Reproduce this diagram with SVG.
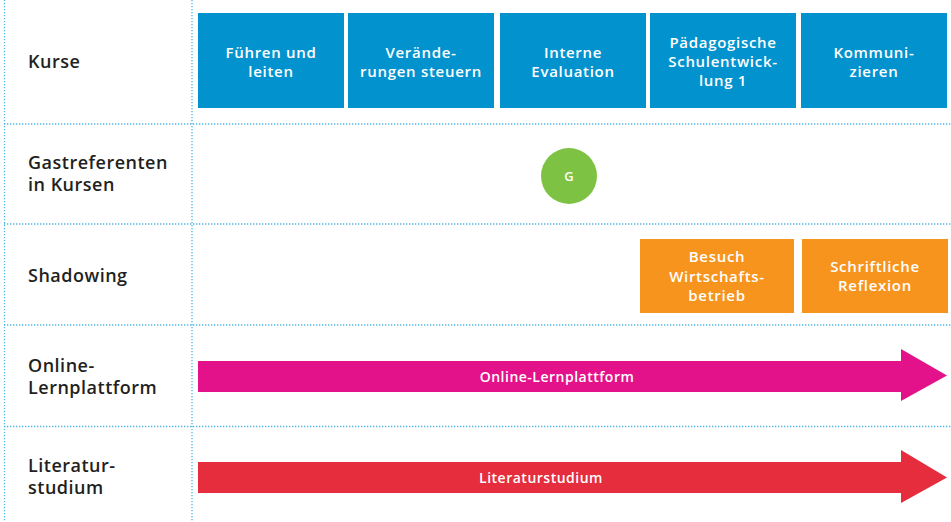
<svg xmlns="http://www.w3.org/2000/svg" width="951" height="522" viewBox="0 0 951 522">
<style>
.grid{stroke:#4DB6E5;stroke-width:1.3;stroke-dasharray:1.3 1.7;fill:none}
.lbl{font-family:"Open Sans","Liberation Sans",sans-serif;font-weight:600;font-size:18px;fill:#231F20;letter-spacing:0.5px}
.bt{font-family:"Open Sans","Liberation Sans",sans-serif;font-weight:600;font-size:15px;fill:#fff;text-anchor:middle;letter-spacing:0.7px}
.at{font-family:"Open Sans","Liberation Sans",sans-serif;font-weight:600;font-size:14px;fill:#fff;text-anchor:middle;letter-spacing:0.5px}
.kurs{fill:#0293CF}
.shad{fill:#F7941D}
</style>
<rect width="951" height="522" fill="#fff"/>
<g id="grid">
<line class="grid" x1="4.5" y1="0" x2="4.5" y2="522"/>
<line class="grid" x1="192" y1="0" x2="192" y2="522"/>
<line class="grid" x1="4" y1="124" x2="951" y2="124"/>
<line class="grid" x1="4" y1="224" x2="951" y2="224"/>
<line class="grid" x1="4" y1="325" x2="951" y2="325"/>
<line class="grid" x1="4" y1="426.5" x2="951" y2="426.5"/>
</g>
<g id="row-labels">
<text class="lbl" x="28" y="68">Kurse</text>
<text class="lbl" x="28" y="169">Gastreferenten</text>
<text class="lbl" x="28" y="191">in Kursen</text>
<text class="lbl" x="28" y="282">Shadowing</text>
<text class="lbl" x="28" y="372">Online-</text>
<text class="lbl" x="28" y="394">Lernplattform</text>
<text class="lbl" x="28" y="472">Literatur-</text>
<text class="lbl" x="28" y="494">studium</text>
</g>
<g id="kurs-fuehren">
<rect class="kurs" x="198" y="13" width="146" height="95"/>
<text class="bt" x="271" y="58">Führen und</text>
<text class="bt" x="271" y="77">leiten</text>
</g>
<g id="kurs-veraenderungen">
<rect class="kurs" x="348" y="13" width="146" height="95"/>
<text class="bt" x="421" y="58">Verände-</text>
<text class="bt" x="421" y="77">rungen steuern</text>
</g>
<g id="kurs-evaluation">
<rect class="kurs" x="500" y="13" width="146" height="95"/>
<text class="bt" x="573" y="58">Interne</text>
<text class="bt" x="573" y="77">Evaluation</text>
</g>
<g id="kurs-schulentwicklung">
<rect class="kurs" x="650" y="13" width="146" height="95"/>
<text class="bt" x="723" y="48">Pädagogische</text>
<text class="bt" x="723" y="67">Schulentwick-</text>
<text class="bt" x="723" y="86">lung 1</text>
</g>
<g id="kurs-kommunizieren">
<rect class="kurs" x="801" y="13" width="146" height="95"/>
<text class="bt" x="874" y="58">Kommuni-</text>
<text class="bt" x="874" y="77">zieren</text>
</g>
<g id="gast-g">
<circle cx="569" cy="176" r="28" fill="#7DC242"/>
<text x="569" y="181" font-family="Open Sans, Liberation Sans, sans-serif" font-weight="600" font-size="13" fill="#fff" text-anchor="middle">G</text>
</g>
<g id="shadow-besuch">
<rect class="shad" x="640" y="239" width="154" height="74"/>
<text class="bt" x="717" y="262">Besuch</text>
<text class="bt" x="717" y="282">Wirtschafts-</text>
<text class="bt" x="717" y="301">betrieb</text>
</g>
<g id="shadow-reflexion">
<rect class="shad" x="802" y="239" width="146" height="74"/>
<text class="bt" x="875" y="272">Schriftliche</text>
<text class="bt" x="875" y="291">Reflexion</text>
</g>
<g id="arrow-online">
<polygon points="198,361 901,361 901,349 947,375.5 901,401 901,392 198,392" fill="#E4128A"/>
<text class="at" x="557" y="382">Online-Lernplattform</text>
</g>
<g id="arrow-literatur">
<polygon points="198,462 901,462 901,450 947,477.5 901,503 901,493 198,493" fill="#E52D3E"/>
<text class="at" x="541" y="483">Literaturstudium</text>
</g>
</svg>
